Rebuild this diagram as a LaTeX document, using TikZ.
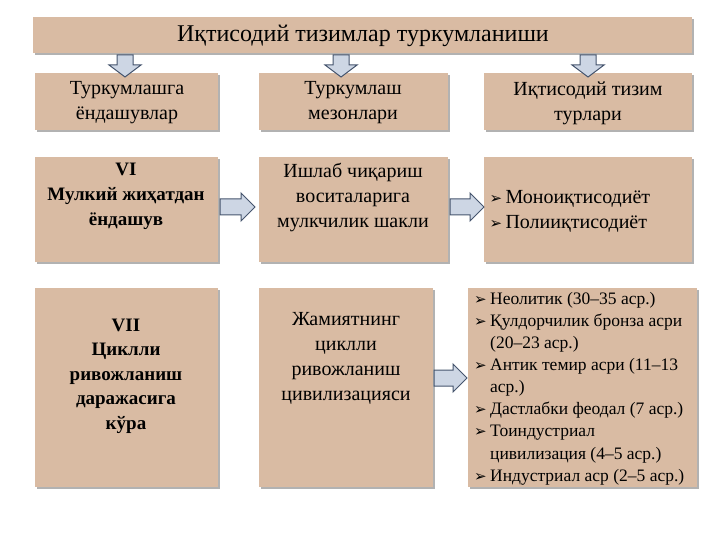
\documentclass[tikz,border=0pt]{standalone}
\usepackage{fontspec}
\setmainfont{Liberation Serif}
\newfontfamily\symf{DejaVu Sans}
\definecolor{boxc}{RGB}{217,187,163}
\definecolor{arrc}{RGB}{205,214,228}
\definecolor{arrd}{RGB}{70,85,110}
\tikzset{
 txt/.style={align=center,font=\fontsize{20}{25}\selectfont},
 arr/.style={draw=arrd,fill=arrc,line width=1pt,line join=miter},
}
\newcommand{\bx}[5]{\fill[gray!60] (#1+2,#2+2) rectangle (#3+2,#4+2);
 \node[fill=boxc,minimum width=#3-#1,minimum height=#4-#2,anchor=north west,inner sep=0] (#5) at (#1,#2) {};}
\newcommand{\bul}{\makebox[16pt][l]{\symf\fontsize{15}{15}\selectfont ➢}}
% right arrow: x0, x1, yc
\newcommand{\rar}[3]{\draw[arr] (#1,#3-8) -- (#2-14,#3-8) -- (#2-14,#3-14) -- (#2,#3) -- (#2-14,#3+14) -- (#2-14,#3+8) -- (#1,#3+8) -- cycle;}
% down arrow: xc
\newcommand{\dar}[1]{\draw[arr] (#1-8,55) -- (#1+8,55) -- (#1+8,65) -- (#1+16,65) -- (#1,77) -- (#1-16,65) -- (#1-8,65) -- cycle;}
\begin{document}
\begin{tikzpicture}[x=1pt,y=-1pt]
\useasboundingbox (0,0) rectangle (720,540);
\fill[white] (0,0) rectangle (720,540);
\bx{33}{17}{692}{53}{t}
\node[txt,font=\fontsize{24}{26}\selectfont] at (363,36) {Иқтисодий тизимлар туркумланиши};
\bx{35}{73}{218}{130}{a1}\bx{259}{73}{448}{130}{a2}\bx{484}{73}{692}{130}{a3}
\node[txt] at (127,103) {Туркумлашга\\ёндашувлар};
\node[txt] at (353,103) {Туркумлаш\\мезонлари};
\node[txt] at (588,103) {Иқтисодий тизим\\турлари};
\bx{35}{157}{218}{262}{b1}\bx{259}{157}{448}{262}{b2}\bx{484}{157}{692}{262}{b3}
\node[txt,font=\bfseries\fontsize{19}{25}\selectfont,anchor=north] at (126,160) {VI\\Мулкий жиҳатдан\\ёндашув};
\node[txt,anchor=north] at (353,160) {Ишлаб чиқариш\\воситаларига\\мулкчилик шакли};
\node[anchor=north west,align=left,font=\fontsize{20}{25}\selectfont] at (486,187) {\bul Моноиқтисодиёт\\\bul Полииқтисодиёт};
\bx{35}{288}{218}{487}{c1}\bx{259}{288}{433}{487}{c2}\bx{468}{288}{697}{487}{c3}
\node[txt,font=\bfseries\fontsize{19}{24.5}\selectfont] at (126,376) {VII\\Циклли\\ривожланиш\\даражасига\\кўра};
\node[txt] at (346,358) {Жамиятнинг\\циклли\\ривожланиш\\цивилизацияси};
\node[anchor=north west,align=left,font=\fontsize{17.5}{22.1}\selectfont,inner sep=0] at (474,292) {%
\bul Неолитик (30–35 аср.)\\
\bul Қулдорчилик бронза асри\\
\hspace*{16pt}(20–23 аср.)\\
\bul Антик темир асри (11–13\\
\hspace*{16pt}аср.)\\
\bul Дастлабки феодал  (7 аср.)\\
\bul Тоиндустриал\\
\hspace*{16pt}цивилизация (4–5 аср.)\\
\bul Индустриал аср (2–5 аср.)};
\dar{125}\dar{341}\dar{588}
\rar{220}{255}{207}
\rar{450}{484}{207}
\rar{434}{467}{378}
\end{tikzpicture}
\end{document}
